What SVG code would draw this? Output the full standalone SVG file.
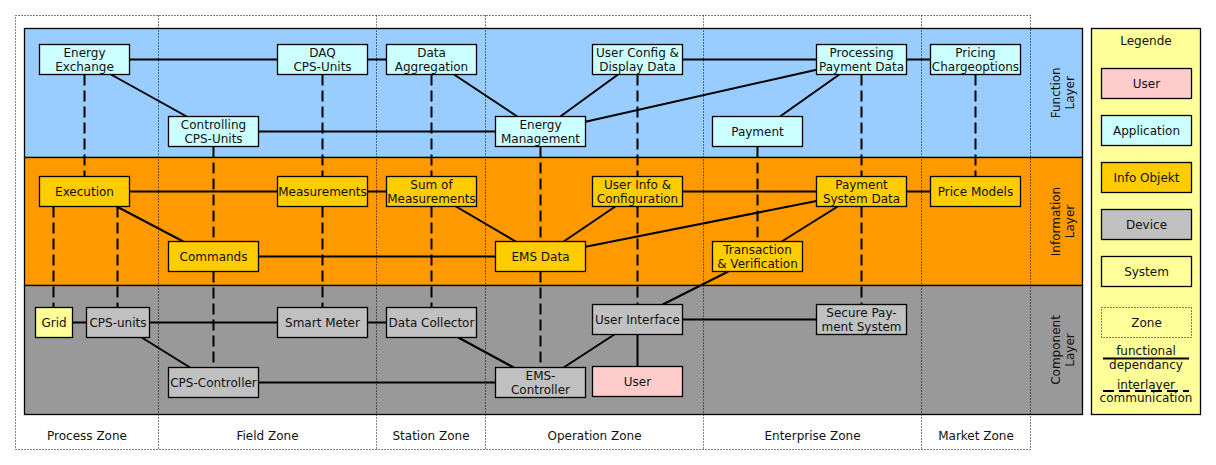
<svg xmlns="http://www.w3.org/2000/svg" width="1216" height="465" viewBox="0 0 1216 465">
<style>
text{font-family:"DejaVu Sans","Liberation Sans",sans-serif;font-size:12px;fill:#111;text-anchor:middle}
.n{stroke:#000;stroke-width:1.3}
.app{fill:#CCFFFF}
.info{fill:#FFCC00}
.dev{fill:#C0C0C0}
.usr{fill:#FFCCCC}
.sys{fill:#FFFF99}
.layer{stroke:#000;stroke-width:1.3}
.zone{fill:none;stroke:#000;stroke-width:1;stroke-dasharray:1,2}
.c line{stroke:#000;stroke-width:2}
.c .d{stroke-dasharray:11,5}
</style>
<rect width="1216" height="465" fill="#fff"/>
<g id="layers">
<rect class="layer" x="24.5" y="28.5" width="1058" height="129" fill="#99CCFF"/>
<rect class="layer" x="24.5" y="157.5" width="1058" height="128" fill="#FF9900"/>
<rect class="layer" x="24.5" y="285.5" width="1058" height="129" fill="#999999"/>
<text transform="translate(1060,92.8) rotate(-90)"><tspan x="0" y="0">Function</tspan><tspan x="0" y="14">Layer</tspan></text>
<text transform="translate(1060,221.5) rotate(-90)"><tspan x="0" y="0">Information</tspan><tspan x="0" y="14">Layer</tspan></text>
<text transform="translate(1060,350) rotate(-90)"><tspan x="0" y="0">Component</tspan><tspan x="0" y="14">Layer</tspan></text>
</g>
<g id="zones">
<rect class="zone" x="15.5" y="15.5" width="1015" height="434"/>
<line class="zone" x1="158.5" y1="15.5" x2="158.5" y2="449.5"/>
<line class="zone" x1="376.5" y1="15.5" x2="376.5" y2="449.5"/>
<line class="zone" x1="485.5" y1="15.5" x2="485.5" y2="449.5"/>
<line class="zone" x1="703.5" y1="15.5" x2="703.5" y2="449.5"/>
<line class="zone" x1="921.5" y1="15.5" x2="921.5" y2="449.5"/>
<text x="87" y="440">Process Zone</text>
<text x="267.5" y="440">Field Zone</text>
<text x="431" y="440">Station Zone</text>
<text x="594.5" y="440">Operation Zone</text>
<text x="812.5" y="440">Enterprise Zone</text>
<text x="976" y="440">Market Zone</text>
</g>
<g id="connectors" class="c">
<line x1="129.5" y1="59.5" x2="277.5" y2="59.5"/>
<line x1="367.5" y1="59.5" x2="386.5" y2="59.5"/>
<line x1="111" y1="74.5" x2="186.7" y2="116.5"/>
<line x1="258.5" y1="131.5" x2="495.5" y2="131.5"/>
<line x1="454" y1="74.5" x2="517.3" y2="116.5"/>
<line x1="618" y1="74.5" x2="560.3" y2="116.5"/>
<line x1="682.5" y1="59.5" x2="816.5" y2="59.5"/>
<line x1="585.5" y1="121.7" x2="816.5" y2="69.7"/>
<line x1="839.3" y1="74.5" x2="780" y2="116.5"/>
<line x1="906.5" y1="59.5" x2="930.5" y2="59.5"/>
<line x1="129.5" y1="191.5" x2="277.5" y2="191.5"/>
<line x1="367.5" y1="191.5" x2="386.5" y2="191.5"/>
<line x1="116.7" y1="206.5" x2="183.3" y2="241.5"/>
<line x1="258.5" y1="256.5" x2="495.5" y2="256.5"/>
<line x1="456" y1="206.5" x2="515.7" y2="241.5"/>
<line x1="615.3" y1="206.5" x2="563.7" y2="241.5"/>
<line x1="682.5" y1="191.5" x2="816.5" y2="191.5"/>
<line x1="585.5" y1="246.7" x2="816.5" y2="201"/>
<line x1="837.7" y1="206.5" x2="781.7" y2="241.5"/>
<line x1="906.5" y1="191.5" x2="930.5" y2="191.5"/>
<line x1="72.5" y1="322.5" x2="86.5" y2="322.5"/>
<line x1="149.5" y1="322.5" x2="277.5" y2="322.5"/>
<line x1="367.5" y1="322.5" x2="386.5" y2="322.5"/>
<line x1="141.7" y1="337.5" x2="190" y2="367.5"/>
<line x1="258.5" y1="382.5" x2="495.5" y2="382.5"/>
<line x1="458.3" y1="337.5" x2="513.7" y2="367.5"/>
<line x1="614.3" y1="334.5" x2="563.7" y2="367.5"/>
<line x1="637.5" y1="334.5" x2="637.5" y2="366.5"/>
<line x1="682.5" y1="319.5" x2="816.5" y2="319.5"/>
<line x1="662.7" y1="304.5" x2="728.3" y2="271.5"/>
<line class="d" x1="84.5" y1="74.5" x2="84.5" y2="176.5"/>
<line class="d" x1="53.5" y1="206.5" x2="53.5" y2="307.5"/>
<line class="d" x1="117.5" y1="206.5" x2="117.5" y2="307.5"/>
<line class="d" x1="322.5" y1="74.5" x2="322.5" y2="176.5"/>
<line class="d" x1="322.5" y1="206.5" x2="322.5" y2="307.5"/>
<line class="d" x1="431.5" y1="74.5" x2="431.5" y2="176.5"/>
<line class="d" x1="431.5" y1="206.5" x2="431.5" y2="307.5"/>
<line class="d" x1="213.5" y1="146.5" x2="213.5" y2="241.5"/>
<line class="d" x1="213.5" y1="271.5" x2="213.5" y2="367.5"/>
<line class="d" x1="540.5" y1="146.5" x2="540.5" y2="241.5"/>
<line class="d" x1="540.5" y1="271.5" x2="540.5" y2="367.5"/>
<line class="d" x1="637.5" y1="74.5" x2="637.5" y2="176.5"/>
<line class="d" x1="637.5" y1="206.5" x2="637.5" y2="304.5"/>
<line class="d" x1="757.5" y1="146.5" x2="757.5" y2="241.5"/>
<line class="d" x1="861.5" y1="74.5" x2="861.5" y2="176.5"/>
<line class="d" x1="861.5" y1="206.5" x2="861.5" y2="304.5"/>
<line class="d" x1="975.5" y1="74.5" x2="975.5" y2="176.5"/>
</g>
<g id="energy-exchange"><rect class="n app" x="39.5" y="44.5" width="90" height="30"/><text x="84.5" y="56.5">Energy</text><text x="84.5" y="70.5">Exchange</text></g>
<g id="daq-cps-units"><rect class="n app" x="277.5" y="44.5" width="90" height="30"/><text x="322.5" y="56.5">DAQ</text><text x="322.5" y="70.5">CPS-Units</text></g>
<g id="data-aggregation"><rect class="n app" x="386.5" y="44.5" width="90" height="30"/><text x="431.5" y="56.5">Data</text><text x="431.5" y="70.5">Aggregation</text></g>
<g id="user-config"><rect class="n app" x="592.5" y="44.5" width="90" height="30"/><text x="637.5" y="56.5">User Config &amp;</text><text x="637.5" y="70.5">Display Data</text></g>
<g id="processing-payment"><rect class="n app" x="816.5" y="44.5" width="90" height="30"/><text x="861.5" y="56.5">Processing</text><text x="861.5" y="70.5">Payment Data</text></g>
<g id="pricing"><rect class="n app" x="930.5" y="44.5" width="90" height="30"/><text x="975.5" y="56.5">Pricing</text><text x="975.5" y="70.5">Chargeoptions</text></g>
<g id="controlling-cps"><rect class="n app" x="168.5" y="116.5" width="90" height="30"/><text x="213.5" y="128.5">Controlling</text><text x="213.5" y="142.5">CPS-Units</text></g>
<g id="energy-management"><rect class="n app" x="495.5" y="116.5" width="90" height="30"/><text x="540.5" y="128.5">Energy</text><text x="540.5" y="142.5">Management</text></g>
<g id="payment"><rect class="n app" x="712.5" y="116.5" width="90" height="30"/><text x="757.5" y="135.5">Payment</text></g>
<g id="execution"><rect class="n info" x="39.5" y="176.5" width="90" height="30"/><text x="84.5" y="195.5">Execution</text></g>
<g id="measurements"><rect class="n info" x="277.5" y="176.5" width="90" height="30"/><text x="322.5" y="195.5">Measurements</text></g>
<g id="sum-of-measurements"><rect class="n info" x="386.5" y="176.5" width="90" height="30"/><text x="431.5" y="188.5">Sum of</text><text x="431.5" y="202.5">Measurements</text></g>
<g id="user-info"><rect class="n info" x="592.5" y="176.5" width="90" height="30"/><text x="637.5" y="188.5">User Info &amp;</text><text x="637.5" y="202.5">Configuration</text></g>
<g id="payment-system-data"><rect class="n info" x="816.5" y="176.5" width="90" height="30"/><text x="861.5" y="188.5">Payment</text><text x="861.5" y="202.5">System Data</text></g>
<g id="price-models"><rect class="n info" x="930.5" y="176.5" width="90" height="30"/><text x="975.5" y="195.5">Price Models</text></g>
<g id="commands"><rect class="n info" x="168.5" y="241.5" width="90" height="30"/><text x="213.5" y="260.5">Commands</text></g>
<g id="ems-data"><rect class="n info" x="495.5" y="241.5" width="90" height="30"/><text x="540.5" y="260.5">EMS Data</text></g>
<g id="transaction"><rect class="n info" x="712.5" y="241.5" width="90" height="30"/><text x="757.5" y="253.5">Transaction</text><text x="757.5" y="267.5">&amp; Verification</text></g>
<g id="grid"><rect class="n sys" x="35.5" y="307.5" width="37" height="30"/><text x="54" y="326.5">Grid</text></g>
<g id="cps-units"><rect class="n dev" x="86.5" y="307.5" width="63" height="30"/><text x="118" y="326.5">CPS-units</text></g>
<g id="smart-meter"><rect class="n dev" x="277.5" y="307.5" width="90" height="30"/><text x="322.5" y="326.5">Smart Meter</text></g>
<g id="data-collector"><rect class="n dev" x="386.5" y="307.5" width="90" height="30"/><text x="431.5" y="326.5">Data Collector</text></g>
<g id="user-interface"><rect class="n dev" x="592.5" y="304.5" width="90" height="30"/><text x="637.5" y="323.5">User Interface</text></g>
<g id="secure-payment"><rect class="n dev" x="816.5" y="304.5" width="90" height="30"/><text x="861.5" y="316.5">Secure Pay-</text><text x="861.5" y="330.5">ment System</text></g>
<g id="cps-controller"><rect class="n dev" x="168.5" y="367.5" width="90" height="30"/><text x="213.5" y="386.5">CPS-Controller</text></g>
<g id="ems-controller"><rect class="n dev" x="495.5" y="367.5" width="90" height="30"/><text x="540.5" y="379.5">EMS-</text><text x="540.5" y="393.5">Controller</text></g>
<g id="user"><rect class="n usr" x="592.5" y="366.5" width="90" height="30"/><text x="637.5" y="385.5">User</text></g>
<g id="legend">
<rect class="n sys" x="1091.5" y="28.5" width="109" height="386"/>
<text x="1146" y="45">Legende</text>
<rect class="n usr" x="1101.5" y="68.5" width="90" height="30"/><text x="1146.5" y="87.5">User</text>
<rect class="n app" x="1101.5" y="115.5" width="90" height="30"/><text x="1146.5" y="134.5">Application</text>
<rect class="n info" x="1101.5" y="162.5" width="90" height="30"/><text x="1146.5" y="181.5">Info Objekt</text>
<rect class="n dev" x="1101.5" y="209.5" width="90" height="30"/><text x="1146.5" y="228.5">Device</text>
<rect class="n sys" x="1101.5" y="256.5" width="90" height="30"/><text x="1146.5" y="275.5">System</text>
<rect class="zone" x="1101.5" y="307.5" width="90" height="30"/><text x="1146.5" y="326.5">Zone</text>
<text x="1146" y="354.5">functional</text>
<line x1="1103" y1="358.5" x2="1189" y2="358.5" stroke="#000" stroke-width="2"/>
<text x="1146" y="368.5">dependancy</text>
<text x="1146" y="388.5">interlayer</text>
<line x1="1103" y1="391" x2="1189" y2="391" stroke="#000" stroke-width="2" stroke-dasharray="11,5"/>
<text x="1146" y="402">communication</text>
</g>
</svg>
